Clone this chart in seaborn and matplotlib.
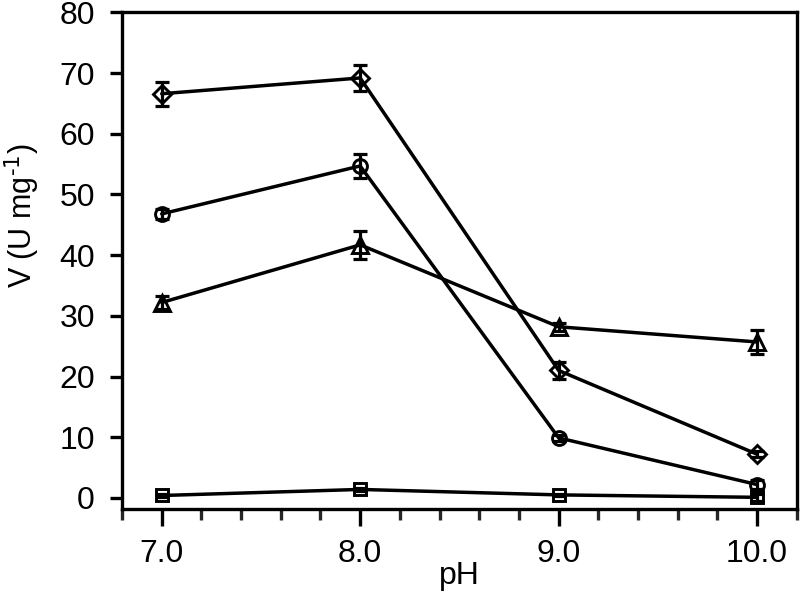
import numpy as np
import seaborn as sns
import matplotlib.pyplot as plt
from matplotlib.ticker import MultipleLocator

ph = [7.0, 8.0, 9.0, 10.0]

v_diamond = [66.6, 69.2, 21.0, 7.2]
err_diamond = [2.0, 2.1, 1.4, 0.5]

v_circle = [46.8, 54.7, 9.9, 2.2]
err_circle = [0.8, 2.0, 0.5, 0.8]

v_triangle = [32.2, 41.7, 28.2, 25.7]
err_triangle = [1.0, 2.3, 0.7, 2.0]

v_square = [0.4, 1.4, 0.5, 0.1]
err_square = [0.3, 0.3, 0.2, 0.6]

series = [
    (v_diamond, err_diamond, 'D', 9),
    (v_circle, err_circle, 'o', 10),
    (v_triangle, err_triangle, '^', 11),
    (v_square, err_square, 's', 9),
]

sns.set_theme(style="ticks")
plt.rcParams['font.family'] = ['Liberation Sans', 'DejaVu Sans']
plt.rcParams['text.color'] = 'black'
plt.rcParams['axes.labelcolor'] = 'black'

fig = plt.figure(figsize=(8, 5.91), dpi=100)
ax = fig.add_axes([0.1525, 0.139, 0.8435, 0.840])

for vals, errs, mk, ms in series:
    ax.errorbar(ph, vals, yerr=errs, fmt='none', ecolor='black',
                elinewidth=2.3, capsize=5, capthick=2.3, zorder=2)
    sns.lineplot(x=ph, y=vals, ax=ax, color='black', linewidth=2.5,
                 marker=mk, markersize=ms,
                 markerfacecolor='none', markeredgecolor='black',
                 markeredgewidth=2.1, zorder=3)

ax.set_xlim(6.8, 10.2)
ax.set_ylim(-1.8, 80)
ax.set_xticks(ph)
ax.set_xticklabels(['7.0', '8.0', '9.0', '10.0'])
ax.xaxis.set_minor_locator(MultipleLocator(0.2))
ax.set_yticks(np.arange(0, 81, 10))

for s in ax.spines.values():
    s.set_linewidth(2.4)
    s.set_color('black')

ax.tick_params(axis='x', which='major', direction='out', length=12, width=2.4,
               labelsize=23, pad=10, colors='black')
ax.tick_params(axis='x', which='minor', direction='out', length=8, width=2.4)
ax.tick_params(axis='y', direction='out', length=8.5, width=2.4,
               labelsize=23, pad=11, colors='black')

ax.set_xlabel('pH', fontsize=23, labelpad=-6)
ax.set_ylabel('V (U mg$^{\\text{-1}}$)', fontsize=22)
ax.yaxis.set_label_coords(-0.118, 0.59)

fig.savefig('out.png', dpi=100)
